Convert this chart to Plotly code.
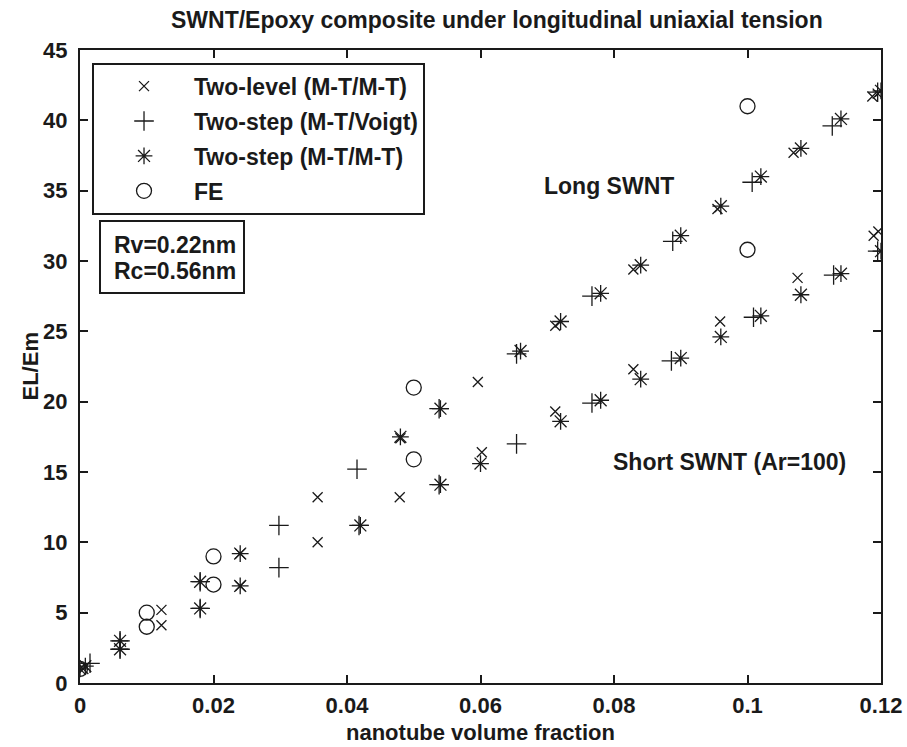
import plotly.graph_objects as go

# ---- data ----
fe_x = [0.0, 0.01, 0.01, 0.02, 0.02, 0.05, 0.05, 0.10, 0.10]
fe_y = [1.0, 5.0, 4.0, 9.0, 7.0, 21.0, 15.9, 41.0, 30.8]

twolevel_long_x = [0.0005, 0.0122, 0.024, 0.0356, 0.048, 0.0596, 0.0712, 0.0829, 0.0955, 0.1069, 0.1187, 0.1195]
twolevel_long_y = [1.0, 5.2, 9.2, 13.2, 17.4, 21.4, 25.4, 29.4, 33.7, 37.7, 41.7, 41.9]
twolevel_short_x = [0.0122, 0.024, 0.0356, 0.0479, 0.0602, 0.0712, 0.0829, 0.0959, 0.1075, 0.1189, 0.1196]
twolevel_short_y = [4.1, 6.9, 10.0, 13.2, 16.4, 19.3, 22.3, 25.7, 28.8, 31.8, 32.1]

voigt_long_x = [0.0015, 0.006, 0.018, 0.0298, 0.0415, 0.0538, 0.0654, 0.0767, 0.0888, 0.1007, 0.1127, 0.1195]
voigt_long_y = [1.4, 3.0, 7.2, 11.2, 15.2, 19.5, 23.4, 27.5, 31.4, 35.6, 39.6, 42.0]
voigt_short_x = [0.006, 0.018, 0.0298, 0.0418, 0.0538, 0.0654, 0.0767, 0.0886, 0.1009, 0.1129, 0.1195]
voigt_short_y = [2.4, 5.3, 8.2, 11.2, 14.1, 17.0, 19.9, 22.9, 26.0, 29.0, 30.7]

mtmt_long_x = [0.0, 0.0008, 0.006, 0.018, 0.024, 0.048, 0.054, 0.066, 0.072, 0.078, 0.084, 0.090, 0.096, 0.102, 0.108, 0.114, 0.120]
mtmt_long_y = [1.0, 1.2, 3.0, 7.2, 9.2, 17.5, 19.5, 23.6, 25.7, 27.7, 29.7, 31.8, 33.9, 36.0, 38.0, 40.1, 42.1]
mtmt_short_x = [0.006, 0.018, 0.024, 0.042, 0.054, 0.060, 0.072, 0.078, 0.084, 0.090, 0.096, 0.102, 0.108, 0.114, 0.120]
mtmt_short_y = [2.4, 5.3, 6.9, 11.2, 14.1, 15.6, 18.6, 20.1, 21.6, 23.1, 24.6, 26.1, 27.6, 29.1, 30.7]

x_ticks = [0, 0.02, 0.04, 0.06, 0.08, 0.1, 0.12]
x_tick_text = ["0", "0.02", "0.04", "0.06", "0.08", "0.1", "0.12"]
y_ticks = [0, 5, 10, 15, 20, 25, 30, 35, 40, 45]

INK = "#1a1a1a"
FONT = "Liberation Sans"
FS = 23


def tfont(size=FS):
    return dict(family=FONT, size=size, color=INK, weight="bold")


fig = go.Figure()


def add(name, xs, ys, symbol, size):
    fig.add_trace(go.Scatter(
        x=xs, y=ys, mode="markers", name=name, legendgroup=name,
        marker=dict(symbol=symbol, size=size, color=INK,
                    line=dict(color=INK, width=1.3)),
    ))


add("Two-level (M-T/M-T)", twolevel_long_x + twolevel_short_x,
    twolevel_long_y + twolevel_short_y, "x-thin-open", 10)
add("Two-step (M-T/Voigt)", voigt_long_x + voigt_short_x,
    voigt_long_y + voigt_short_y, "cross-thin-open", 14)
add("Two-step (M-T/M-T)", mtmt_long_x + mtmt_short_x,
    mtmt_long_y + mtmt_short_y, "asterisk-open", 14)
add("FE", fe_x, fe_y, "circle-open", 15)

axis_common = dict(
    showgrid=False, zeroline=False, showline=True, linecolor=INK, linewidth=2,
    mirror="ticks", ticks="inside", ticklen=8, tickwidth=1.5, tickcolor=INK,
    tickfont=tfont(22), automargin=False,
)

fig.update_xaxes(range=[0, 0.12], tickvals=x_ticks, ticktext=x_tick_text,
                 ticklabelstandoff=2, **axis_common)
fig.update_yaxes(range=[0, 45], tickvals=y_ticks, ticklabelstandoff=6,
                 **axis_common)

# axis titles
fig.add_annotation(x=0.5, y=0, xref="paper", yref="paper", yanchor="middle",
                   yshift=-49, showarrow=False, text="nanotube volume fraction",
                   font=tfont(22))
fig.add_annotation(x=-50 / 801, y=0.5, xref="paper", yref="paper",
                   xanchor="center", yanchor="middle", textangle=-90,
                   showarrow=False, text="EL/Em", font=tfont(22))

# title
fig.add_annotation(x=0.52, y=1.0, xref="paper", yref="paper", yanchor="middle",
                   yshift=30, showarrow=False,
                   text="SWNT/Epoxy composite under longitudinal uniaxial tension",
                   font=tfont())

# parameter box (frame + two text lines)
fig.add_shape(type="rect", xref="paper", yref="paper",
              x0=20 / 801, x1=164 / 801, y0=1 - 243 / 633, y1=1 - 171 / 633,
              line=dict(color=INK, width=2), fillcolor="white", layer="above")
fig.add_annotation(x=32 / 801, y=1 - 195 / 633, xref="paper", yref="paper",
                   xanchor="left", yanchor="middle", showarrow=False,
                   text="Rv=0.22nm", font=tfont())
fig.add_annotation(x=32 / 801, y=1 - 221 / 633, xref="paper", yref="paper",
                   xanchor="left", yanchor="middle", showarrow=False,
                   text="Rc=0.56nm", font=tfont())

fig.add_annotation(x=0.0692, y=35.3, xref="x", yref="y", xanchor="left",
                   showarrow=False, text="Long SWNT", font=tfont())
fig.add_annotation(x=0.0796, y=15.7, xref="x", yref="y", xanchor="left",
                   showarrow=False, text="Short SWNT (Ar=100)", font=tfont())

fig.update_layout(
    width=907, height=747,
    margin=dict(l=80, r=26, t=50, b=64),
    paper_bgcolor="white", plot_bgcolor="white",
    showlegend=True,
    legend=dict(x=0.015, y=0.98, xanchor="left", yanchor="top",
                bordercolor=INK, borderwidth=2, bgcolor="white",
                font=tfont(),
                itemwidth=90, tracegroupgap=2, itemsizing="trace"),
)

fig.write_html("out.html", config={"displayModeBar": False},
               post_script="document.body.style.margin='0px';")
